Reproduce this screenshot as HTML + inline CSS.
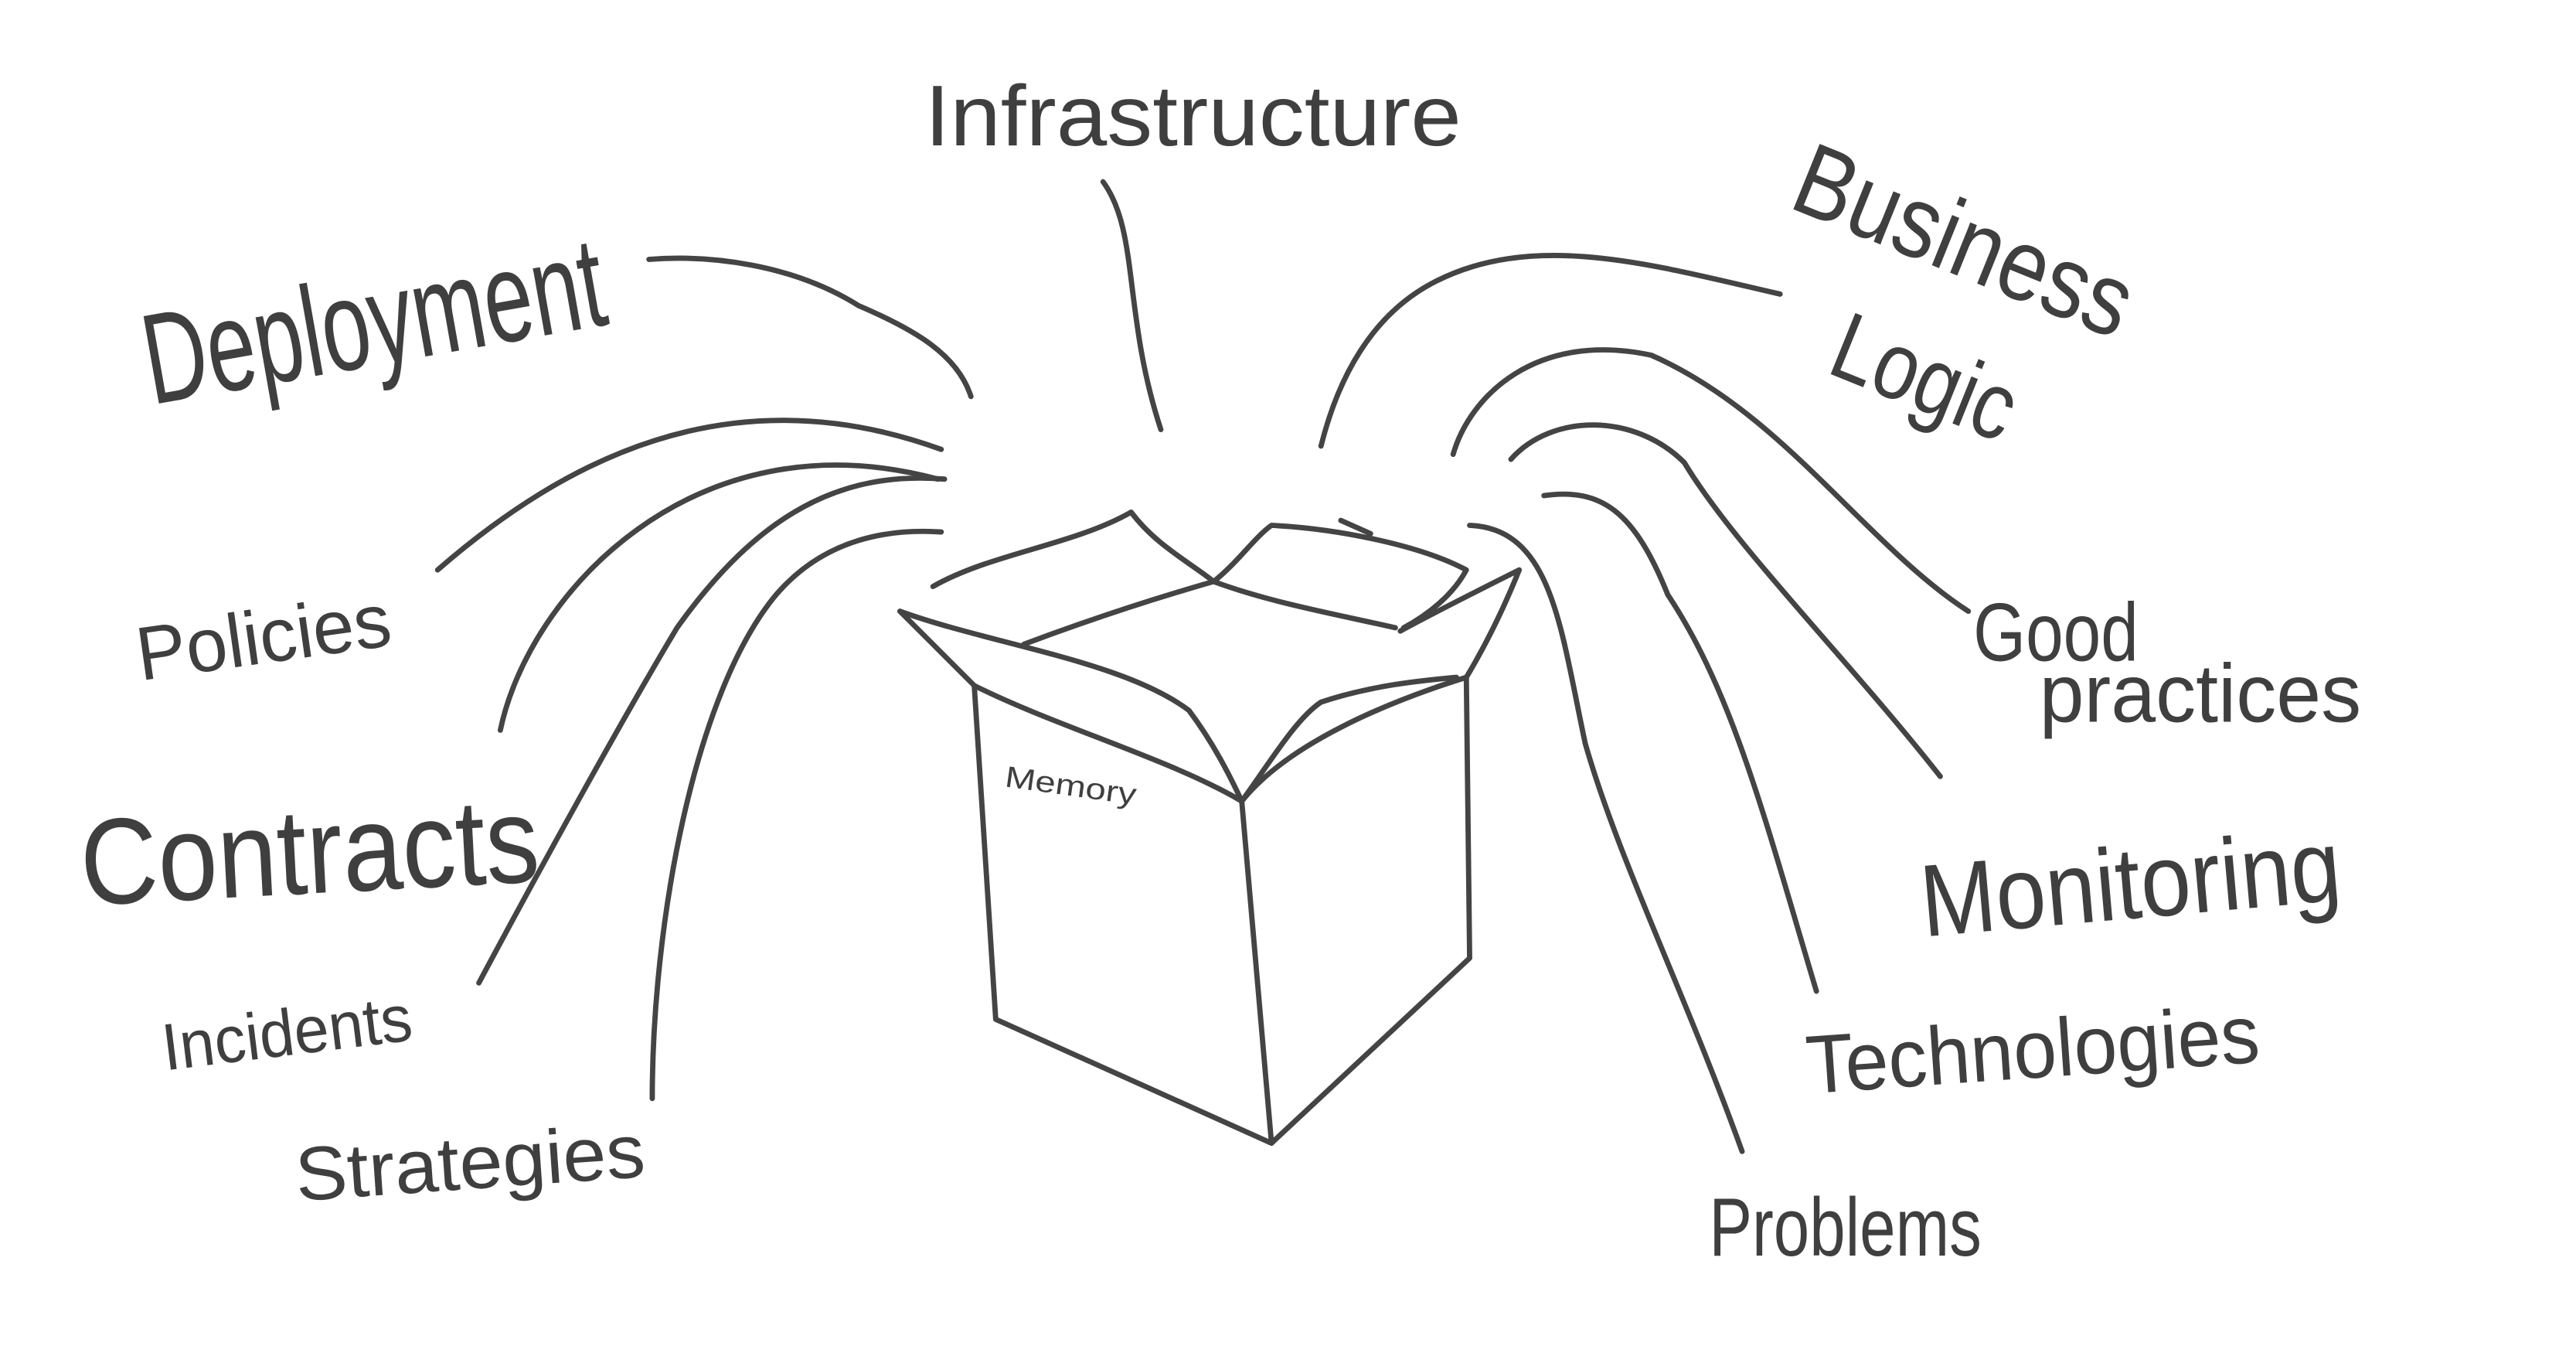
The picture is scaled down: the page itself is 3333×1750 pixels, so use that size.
<!DOCTYPE html>
<html><head><meta charset="utf-8"><style>
html,body{margin:0;padding:0;background:#fff;}
svg{display:block;}
text{font-family:"Liberation Sans",sans-serif;fill:#3f3f3f;}
</style></head><body>
<svg width="3333" height="1750" viewBox="0 0 1560 819" xmlns="http://www.w3.org/2000/svg">
<rect width="1560" height="819" fill="#fff"/>
<g fill="none" stroke="#444" stroke-width="3.2" stroke-linecap="round" stroke-linejoin="round">
<!-- left connectors -->
<path d="M393,157 C430,154 480,160 520,185 C555,200 580,215 588,240"/>
<path d="M265,345 C340,280 440,225 570,272"/>
<path d="M303,442 C320,360 420,250 568,290"/>
<path d="M290,595 C330,520 380,430 410,380 C460,310 510,285 572,290"/>
<path d="M395,665 C395,560 420,420 470,360 C500,325 540,320 570,322"/>
<!-- top -->
<path d="M668,110 C690,140 680,190 703,260"/>
<!-- right connectors -->
<path d="M1078,178 C1000,160 930,140 870,170 C830,190 810,230 800,270"/>
<path d="M1192,370 C1130,330 1080,250 1000,215 C930,200 890,240 880,275"/>
<path d="M1175,470 C1120,400 1050,330 1020,280 C990,250 940,250 915,278"/>
<path d="M1100,600 C1070,500 1050,420 1010,360 C990,310 970,295 935,300"/>
<path d="M1055,697 C1020,600 980,520 960,450 C945,380 940,320 890,318"/>
<!-- box -->
<path d="M590,415 L603,617 L770,692 L890,580 L888,410"/>
<path d="M752,485 L770,692"/>
<path d="M590,415 C640,440 710,460 752,485 C780,450 840,425 888,410"/>
<path d="M545,370 L590,415"/>
<path d="M545,370 C600,390 680,400 720,430 C735,450 745,470 752,485"/>
<path d="M565,355 C600,335 650,330 685,310 C700,330 720,340 735,352 C750,340 760,325 770,318 C810,320 860,330 888,345 C880,360 865,372 850,380"/>
<path d="M735,352 C770,365 810,372 845,380"/>
<path d="M620,390 C660,375 700,362 735,352"/>
<path d="M752,485 C770,460 785,435 800,425 C830,415 860,412 882,410"/>
<path d="M920,345 C910,370 900,390 888,410"/>
<path d="M848,382 C870,370 900,355 920,345"/>
<path d="M812,315 L830,323"/>
</g>
<text x="560" y="88" font-size="52" textLength="325" lengthAdjust="spacingAndGlyphs">Infrastructure</text>
<text x="92" y="245" font-size="78" textLength="282" lengthAdjust="spacingAndGlyphs" transform="rotate(-10 92 245)">Deployment</text>
<text x="85" y="412" font-size="46" textLength="155" lengthAdjust="spacingAndGlyphs" transform="rotate(-8 85 412)">Policies</text>
<text x="50" y="548" font-size="74" textLength="278" lengthAdjust="spacingAndGlyphs" transform="rotate(-3 50 548)">Contracts</text>
<text x="100" y="648" font-size="40" textLength="152" lengthAdjust="spacingAndGlyphs" transform="rotate(-7 100 648)">Incidents</text>
<text x="180" y="727" font-size="46" textLength="212" lengthAdjust="spacingAndGlyphs" transform="rotate(-4 180 727)">Strategies</text>
<text x="1082" y="125" font-size="62" textLength="215" lengthAdjust="spacingAndGlyphs" transform="rotate(22 1082 125)">Business</text>
<text x="1105" y="225" font-size="58" textLength="115" lengthAdjust="spacingAndGlyphs" transform="rotate(22 1105 225)">Logic</text>
<text x="1195" y="400" font-size="50" textLength="100" lengthAdjust="spacingAndGlyphs">Good</text>
<text x="1235" y="437" font-size="50" textLength="195" lengthAdjust="spacingAndGlyphs">practices</text>
<text x="1165" y="567" font-size="62" textLength="255" lengthAdjust="spacingAndGlyphs" transform="rotate(-5 1165 567)">Monitoring</text>
<text x="1095" y="662" font-size="50" textLength="275" lengthAdjust="spacingAndGlyphs" transform="rotate(-4 1095 662)">Technologies</text>
<text x="1035" y="760" font-size="50" textLength="165" lengthAdjust="spacingAndGlyphs">Problems</text>
<text x="608" y="476" font-size="18" textLength="80" lengthAdjust="spacingAndGlyphs" transform="rotate(8 608 476)">Memory</text>
</svg>
</body></html>
